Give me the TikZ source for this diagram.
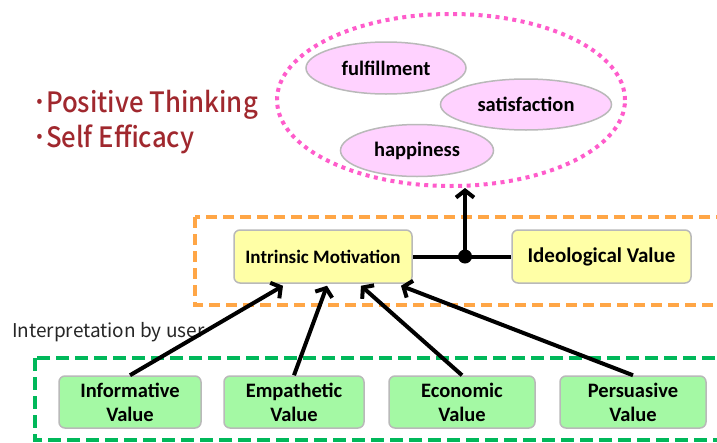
\documentclass[tikz,border=0pt]{standalone}
\usepackage{fontspec}
\setmainfont{Carlito}
\IfFontExistsTF{Noto Sans CJK JP Medium}
  {\newfontfamily\jpfont{Noto Sans CJK JP Medium}}
  {\newfontfamily\jpfont{Noto Sans CJK JP}}
\newfontfamily\jpplain{Noto Sans CJK JP}
\usetikzlibrary{shapes,arrows.meta}
\definecolor{pinkline}{HTML}{FF5CCB}
\definecolor{pinkfill}{HTML}{FFD2FF}
\definecolor{orangeline}{HTML}{FFA646}
\definecolor{greenline}{HTML}{00B85A}
\definecolor{greenfill}{HTML}{A4F9A4}
\definecolor{yellowfill}{HTML}{FFFFA6}
\definecolor{darkred}{HTML}{A0282E}
\tikzset{
 feeling/.style={ellipse,draw=gray!55,line width=1.5pt,fill=pinkfill,inner sep=0pt,
   font=\bfseries\fontsize{20.5}{24}\selectfont},
 motive/.style={rectangle,rounded corners=6pt,draw=gray!55,line width=1.5pt,fill=yellowfill,
   minimum height=53pt,inner sep=0pt},
 valuebox/.style={rectangle,rounded corners=6pt,draw=gray!55,line width=1.5pt,fill=greenfill,
   minimum height=52pt,inner sep=0pt,align=center,font=\bfseries\fontsize{20.5}{24}\selectfont},
 link/.style={line width=4pt,-{Straight Barb[length=7pt,width=18pt]}},
 redline/.style={anchor=base west,text=darkred,inner sep=0pt,font=\jpfont\fontsize{28}{32}\selectfont},
}

\begin{document}
\begin{tikzpicture}[x=1pt,y=-1pt]
        \useasboundingbox (0,0) rectangle (717,442);

        % feelings
        \node[draw=pinkline,line width=4pt,dash pattern=on 4pt off 4.5pt,ellipse,
          minimum width=348pt,minimum height=172pt] (goal) at (451,100) {};
        \node[feeling,minimum width=160pt,minimum height=52pt] (ful) at (386,68) {fulfillment};
        \node[feeling,minimum width=171pt,minimum height=51pt] (sat) at (526,104.5) {satisfaction};
        \node[feeling,minimum width=153pt,minimum height=52pt] (hap) at (417,150.5) {happiness};

        \node[redline] (pos) at (33,112) {\scalebox{0.92}[1]{･Positive Thinking}};
        \node[redline] (eff) at (33,147) {\scalebox{0.92}[1]{･Self Efficacy}};

        % motivation layer
        \draw[orangeline,line width=4pt,dash pattern=on 11pt off 6pt] (195,217) rectangle (730,305);
        \node[motive,minimum width=178pt,font=\bfseries\fontsize{19}{22}\selectfont] (im) at (323,256.5) {Intrinsic Motivation};
        \node[motive,minimum width=179pt,font=\bfseries\fontsize{21}{24}\selectfont] (iv) at (601.5,256.5) {Ideological Value};
        \coordinate (hub) at (465,256.5);
        \draw[line width=4pt] (im.east) -- (iv.west);
        \fill (hub) circle (7pt);
        \draw[link] (hub) -- (hub |- goal.south);

        \node[anchor=base west,inner sep=0pt,text=black!85,font=\jpplain\fontsize{19}{22}\selectfont] (interp) at (12,337) {Interpretation by user};

        % value layer
        \draw[greenline,line width=4pt,dash pattern=on 13pt off 6pt] (35,358) rectangle (730,440);
        \node[valuebox,minimum width=142pt] (info) at (130,402) {Informative\\Value};
        \node[valuebox,minimum width=140pt] (emp) at (294,402) {Empathetic\\Value};
        \node[valuebox,minimum width=146pt] (eco) at (462,402) {Economic\\Value};
        \node[valuebox,minimum width=146pt] (per) at (633,402) {Persuasive\\Value};

        \draw[link] (info.north) -- ([xshift=-40pt,yshift=-2pt]im.south);
        \draw[link] (emp.north) -- ([xshift=4pt,yshift=-2pt]im.south);
        \draw[link] (eco.north) -- ([xshift=38pt,yshift=-2pt]im.south);
        \draw[link] (per.north) -- ([xshift=78pt,yshift=-2pt]im.south);
\end{tikzpicture}
\end{document}
